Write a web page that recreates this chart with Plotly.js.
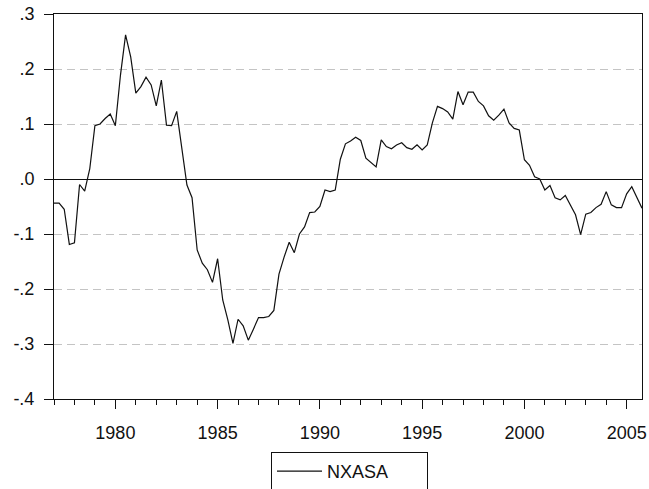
<!DOCTYPE html>
<html>
<head>
<meta charset="utf-8">
<script src="https://cdn.plot.ly/plotly-3.0.1.min.js"></script>
<style>
  html, body { margin: 0; padding: 0; background: #ffffff; }
  #chart { width: 649px; height: 489px; }
</style>
</head>
<body>
<div id="chart"></div>
<script>
// Quarterly series NXASA, 1977Q1 .. 2005Q4
const firstYear = 1977;
const lastYear = 2005;
const seriesName = "NXASA";
const nxasa = [
  -0.044, -0.044, -0.055, -0.119, -0.116, -0.010, -0.022, 0.019,
   0.097,  0.100,  0.110,  0.118,  0.097,  0.189,  0.262, 0.222,
   0.156,  0.168,  0.185,  0.171,  0.133,  0.180,  0.098, 0.097,
   0.123,  0.056, -0.011, -0.034, -0.129, -0.153, -0.165, -0.188,
  -0.145, -0.220, -0.256, -0.299, -0.255, -0.267, -0.293, -0.273,
  -0.252, -0.252, -0.250, -0.239, -0.173, -0.142, -0.115, -0.134,
  -0.100, -0.087, -0.061, -0.060, -0.050, -0.020, -0.023, -0.020,
   0.036,  0.064,  0.069,  0.076,  0.070,  0.038,  0.030, 0.022,
   0.071,  0.059,  0.055,  0.062,  0.066,  0.057,  0.054, 0.062,
   0.053,  0.062,  0.102,  0.132,  0.128,  0.122,  0.109, 0.159,
   0.135,  0.158,  0.158,  0.141,  0.133,  0.115,  0.107, 0.116,
   0.127,  0.102,  0.092,  0.089,  0.035,  0.025,  0.004, 0.000,
  -0.020, -0.012, -0.034, -0.038, -0.030, -0.047, -0.065, -0.101,
  -0.064, -0.061, -0.052, -0.046, -0.023, -0.047, -0.052, -0.052,
  -0.027, -0.014, -0.035, -0.053
];
const yTickVals = [0.3, 0.2, 0.1, 0.0, -0.1, -0.2, -0.3, -0.4];
const yTickText = [".3", ".2", ".1", ".0", "-.1", "-.2", "-.3", "-.4"];
const xTickVals = [1980, 1985, 1990, 1995, 2000, 2005];
const xTickText = ["1980", "1985", "1990", "1995", "2000", "2005"];

// time index (one entry per quarter)
const periods = [];
for (let y = firstYear; y <= lastYear; y++) {
  for (let q = 0; q < 4; q++) periods.push(y + q / 4);
}

const font = { family: "Liberation Sans, Arial, sans-serif", size: 18, color: "#111111" };

const trace = {
  x: periods.slice(0, nxasa.length),
  y: nxasa,
  type: "scatter",
  mode: "lines",
  name: seriesName,
  line: { color: "#111111", width: 1.2 },
  showlegend: true
};

const layout = {
  width: 649,
  height: 489,
  paper_bgcolor: "#ffffff",
  plot_bgcolor: "#ffffff",
  margin: { l: 54, r: 7, t: 14, b: 90, autoexpand: false },
  font: font,
  showlegend: true,
  xaxis: {
    range: [firstYear, periods[nxasa.length - 1]],
    tickmode: "array",
    tickvals: xTickVals,
    ticktext: xTickText,
    ticks: "outside",
    ticklen: 9,
    tickwidth: 1,
    tickcolor: "#111111",
    ticklabelstandoff: 8,
    showline: true,
    linecolor: "#111111",
    linewidth: 1,
    mirror: true,
    showgrid: false,
    zeroline: false,
    tickfont: font,
    minor: { dtick: 1, tick0: firstYear, ticks: "outside", ticklen: 5, tickwidth: 1, tickcolor: "#111111", showgrid: false }
  },
  yaxis: {
    range: [-0.4, 0.3],
    tickmode: "array",
    tickvals: yTickVals,
    ticktext: yTickText,
    ticks: "outside",
    ticklen: 9,
    tickwidth: 1,
    tickcolor: "#111111",
    ticklabelstandoff: 6,
    showline: true,
    linecolor: "#111111",
    linewidth: 1,
    mirror: true,
    showgrid: true,
    gridcolor: "#c4c4c4",
    griddash: "8px,5px",
    gridwidth: 1,
    zeroline: true,
    zerolinecolor: "#111111",
    zerolinewidth: 1,
    tickfont: font
  },
  legend: {
    orientation: "h",
    x: (271 - 54) / 588,
    xanchor: "left",
    y: (399 - 452) / 385,
    yanchor: "top",
    bordercolor: "#111111",
    borderwidth: 1,
    bgcolor: "#ffffff",
    font: font,
    itemwidth: 45,
    entrywidth: 95,
    tracegroupgap: 0
  }
};

Plotly.newPlot("chart", [trace], layout, { displayModeBar: false, staticPlot: true });
</script>
</body>
</html>
